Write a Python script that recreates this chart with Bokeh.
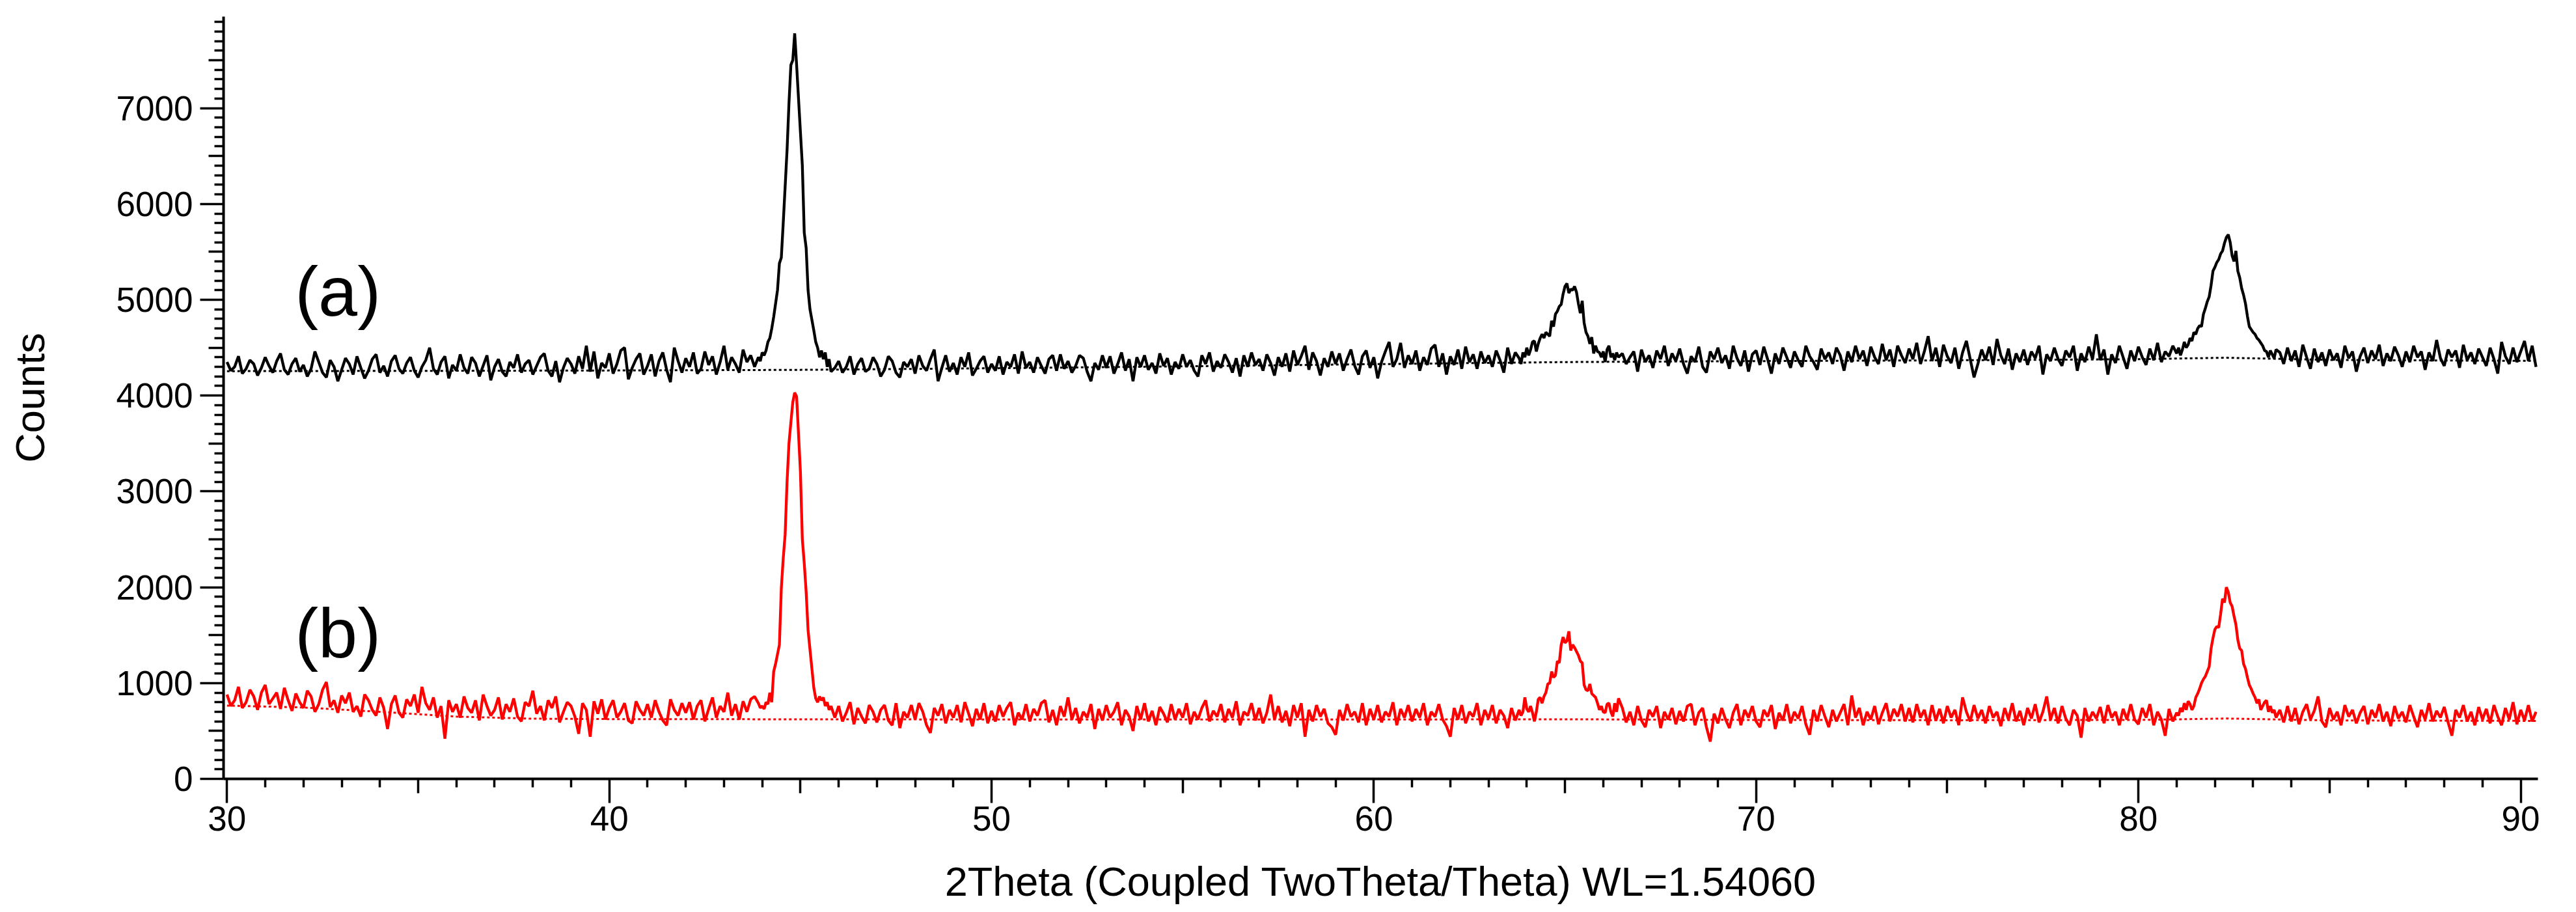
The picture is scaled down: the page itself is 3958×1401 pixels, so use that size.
from bokeh.plotting import figure
from bokeh.models import (LinearAxis, FixedTicker, Range1d, Label,
                          CustomJSTickFormatter)
from bokeh.embed import file_html
from bokeh.resources import INLINE

FONT = "Liberation Sans"

# ---------------- data (counts) ----------------
# trace (a), black: background stretches on a 0.1 deg grid, peaks on a 0.05 deg grid
a_seg1 = [4350, 4260, 4300, 4410, 4230, 4280, 4370, 4330, 4210, 4290,
          4400, 4310, 4240, 4360, 4440, 4270, 4220, 4330, 4390, 4250,
          4320, 4200, 4280, 4460, 4350, 4240, 4190, 4370, 4300, 4150,
          4270, 4390, 4330, 4220, 4410, 4290, 4180, 4260, 4380, 4430,
          4240, 4310, 4200, 4360, 4420, 4280, 4230, 4340, 4400, 4260,
          4190, 4300, 4370, 4500, 4280, 4220, 4350, 4410, 4180, 4320,
          4260, 4430, 4290, 4230, 4400, 4340, 4200, 4310, 4420, 4160,
          4300, 4380, 4250, 4200, 4350, 4290, 4430, 4240, 4330, 4370,
          4220, 4310, 4400, 4440, 4260, 4200, 4360, 4140, 4290, 4390,
          4330, 4230, 4410, 4280, 4520, 4250, 4460, 4180, 4340, 4290,
          4440, 4230, 4330, 4470, 4500, 4170, 4290, 4380, 4440, 4220,
          4310, 4430, 4200, 4360, 4450, 4270, 4140, 4500, 4360, 4240,
          4390, 4300, 4450, 4230, 4280, 4460, 4320, 4410, 4220, 4350,
          4520, 4270, 4400, 4330, 4240, 4480, 4350, 4420, 4300]
a_peak1 = [4400, 4360, 4450, 4420, 4470, 4560, 4600, 4700, 4820, 4960,
           5100, 5380, 5440, 5800, 6180, 6560, 7050, 7450, 7500, 7780,
           7450, 7100, 6750, 6400, 5700, 5540, 5100, 4900, 4790, 4680,
           4560, 4500, 4400, 4470, 4380, 4450, 4300, 4380, 4250]
a_seg2 = [4290,
          4360, 4240, 4300, 4410, 4220, 4330, 4390, 4250, 4280, 4400,
          4330, 4200, 4270, 4410, 4360, 4240, 4190, 4350, 4300, 4380,
          4230, 4420, 4310, 4260, 4380, 4480, 4150, 4290, 4420, 4250,
          4340, 4220, 4400, 4300, 4450, 4210, 4280, 4360, 4410, 4240,
          4330, 4260, 4410, 4220, 4350, 4300, 4430, 4230, 4460, 4290,
          4350, 4240, 4400, 4310, 4230, 4380, 4420, 4260, 4430, 4280,
          4360, 4240, 4310, 4420, 4390, 4250, 4150, 4340, 4270, 4420,
          4290, 4410, 4230, 4330, 4450, 4260, 4380, 4150, 4400, 4300,
          4420, 4270, 4340, 4230, 4440, 4310, 4390, 4220, 4350, 4280,
          4430, 4300, 4370, 4260, 4200, 4420, 4330, 4450, 4250, 4360,
          4290, 4430, 4350, 4240, 4390, 4200, 4420, 4300, 4450, 4320,
          4380, 4260, 4430, 4340, 4210, 4400, 4300, 4440, 4250, 4470,
          4320, 4410, 4520, 4270, 4450, 4360, 4210, 4390, 4300, 4460,
          4330, 4440, 4260, 4380, 4480, 4310, 4220, 4410, 4470, 4290,
          4400, 4180, 4350, 4460, 4560, 4300, 4380, 4550, 4290, 4420,
          4330, 4470, 4260, 4400, 4320, 4490, 4530, 4300, 4440, 4220,
          4410, 4320, 4480, 4280, 4510, 4350, 4430, 4280, 4460, 4340,
          4420, 4300, 4470, 4370, 4240, 4500, 4330, 4450]
a_peak2 = [4390, 4330, 4450, 4400, 4500, 4420, 4480, 4560, 4570, 4460,
           4540, 4600, 4640, 4600, 4660, 4640, 4620, 4780, 4720, 4850,
           4880, 4930, 4950, 5060, 5140, 5170, 5070, 5110, 5100, 5140,
           5080, 4960, 4860, 4990, 4760, 4660, 4620, 4540, 4610, 4440,
           4520, 4460, 4450, 4400, 4460, 4350, 4480, 4520, 4400, 4440,
           4370, 4450, 4400]
a_seg3 = [4440, 4330, 4400, 4460, 4250,
          4480, 4350, 4420, 4290, 4470, 4380, 4520, 4310, 4440, 4360,
          4490, 4330, 4230, 4410, 4350, 4510, 4300, 4240, 4460, 4380,
          4500, 4340, 4420, 4280, 4520, 4390, 4310, 4470, 4250, 4430,
          4470, 4320, 4510, 4380, 4230, 4440, 4330, 4500, 4400, 4290,
          4460, 4370, 4300, 4520, 4410, 4350, 4270, 4490, 4380, 4450,
          4330, 4500, 4420, 4260, 4460, 4350, 4520, 4380, 4470, 4310,
          4510, 4400, 4330, 4540, 4370, 4480, 4300, 4520, 4420, 4340,
          4490, 4380, 4550, 4330, 4460, 4620, 4360, 4500, 4300, 4530,
          4410, 4340, 4500, 4280, 4450, 4570, 4380, 4190, 4330, 4480,
          4370, 4510, 4320, 4590, 4420, 4330, 4490, 4270, 4440, 4350,
          4480, 4320, 4460, 4390, 4520, 4220, 4430, 4360, 4500, 4380,
          4310, 4470, 4400, 4520, 4260, 4440, 4350, 4510, 4380, 4640,
          4370, 4480, 4220, 4430, 4340, 4520, 4400, 4280, 4470, 4360,
          4510, 4400, 4320, 4490, 4370, 4550, 4350, 4460, 4410, 4520]
a_peak3 = [4440, 4500, 4420, 4480, 4560, 4500, 4530, 4600, 4570, 4660,
           4640, 4700, 4730, 4720, 4850, 4910, 4980, 5030, 5150, 5300,
           5340, 5390, 5420, 5480, 5510, 5590, 5650, 5680, 5600, 5460,
           5400, 5510, 5300, 5230, 5120, 5050, 4960, 4830, 4720, 4690,
           4660, 4640, 4600, 4580, 4550, 4520, 4470, 4460, 4400, 4470,
           4430, 4390, 4480]
a_seg4 = [4450, 4330, 4500,
          4360, 4470, 4300, 4530, 4400, 4280, 4490, 4350, 4450, 4310,
          4480, 4370, 4440, 4290, 4520, 4390, 4460, 4250, 4410, 4500,
          4340, 4470, 4380, 4530, 4310, 4440, 4360, 4510, 4420, 4300,
          4460, 4350, 4520, 4400, 4460, 4270, 4450, 4360, 4580, 4390,
          4310, 4480, 4400, 4470, 4290, 4530, 4370, 4450, 4330, 4490,
          4400, 4310, 4500, 4380, 4230, 4560, 4410, 4330, 4500, 4350,
          4460, 4570, 4360, 4520, 4300]

# trace (b), red
b_seg1 = [880, 760, 820, 960, 740, 800, 930, 860, 720, 900,
          980, 780, 840, 900, 730, 950, 820, 710, 890, 800,
          740, 920, 860, 700, 780, 930, 1010, 750, 820, 690,
          870, 790, 900, 700, 760, 650, 880, 820, 720, 660,
          850, 740, 520, 780, 870, 690, 640, 830, 760, 880,
          690, 960, 790, 720, 850, 640, 760, 420, 820, 700,
          780, 640, 860, 740, 690, 820, 610, 880, 760, 660,
          720, 850, 620, 780, 700, 840, 650, 600, 800, 760,
          920, 680, 760, 610, 820, 740, 860, 590, 700, 800,
          760, 650, 470, 790, 720, 440, 810, 680, 830, 620,
          740, 820, 640, 700, 790, 610, 580, 810, 720, 660,
          780, 640, 820, 700, 610, 560, 830, 720, 660, 790,
          690, 800, 620, 760, 820, 600, 730, 850, 640, 760,
          700, 900, 660, 780, 620, 810, 700, 830, 860]
b_peak1 = [790, 740, 760, 730, 800, 780, 900, 800, 1120, 1200,
           1300, 1400, 1990, 2300, 2550, 3100, 3500, 3720, 3930, 4030,
           3990, 3600, 3200, 2500, 2250, 1950, 1550, 1350, 1150, 950,
           840, 800, 860, 820, 850, 760, 800, 720, 760]
b_seg2 = [640,
          760, 600, 690, 800, 570, 740, 650, 580, 770, 700,
          590, 720, 770, 610, 560, 790, 530, 700, 640, 770,
          620, 790, 700, 560, 480, 740, 660, 780, 580, 720,
          640, 770, 590, 800, 680, 550, 730, 620, 790, 580,
          710, 600, 770, 650, 740, 800, 560, 690, 620, 780,
          600, 730, 660, 790, 820, 590, 720, 560, 760, 650,
          850, 620, 740, 580, 700, 640, 780, 520, 730, 610,
          770, 640, 700, 800, 560, 720, 650, 500, 760, 620,
          790, 600, 710, 560, 750, 680, 590, 780, 620, 730,
          640, 790, 570, 700, 620, 740, 820, 600, 710, 650,
          780, 590, 730, 640, 810, 560, 700, 660, 790, 610,
          740, 580, 690, 880, 620, 760, 590, 710, 550, 770,
          640, 790, 440, 720, 600, 770, 650, 730, 580, 540,
          460, 720, 610, 780, 650, 700, 590, 790, 560, 730,
          620, 770, 590, 700, 650, 800, 560, 730, 640, 770,
          600, 730, 640, 790, 560, 700, 650, 780, 620, 550,
          440, 740, 620, 770, 580, 700, 650, 790, 560, 720,
          630, 770, 580, 720, 660, 530, 740, 610]
b_peak2 = [720, 660, 700, 850, 730, 700, 760, 690, 600, 700,
           830, 850, 790, 860, 900, 990, 1000, 1120, 1060, 1080,
           1230, 1210, 1400, 1480, 1420, 1440, 1540, 1340, 1400, 1370,
           1330, 1290, 1230, 1210, 980, 930, 920, 990, 890, 870,
           850, 790, 720, 760, 700, 690, 780, 790, 700, 650,
           790, 700, 840]
b_seg3 = [740, 590, 700, 560, 760,
          610, 540, 720, 650, 760, 530, 700, 620, 740, 570,
          710, 600, 760, 780, 560, 690, 740, 540, 390, 680,
          580, 740, 620, 530, 690, 780, 560, 720, 640, 760,
          600, 540, 720, 650, 770, 520, 690, 610, 780, 580,
          700, 630, 760, 570, 460, 720, 600, 770, 650, 540,
          720, 600, 690, 780, 560, 870, 640, 740, 560, 700,
          620, 760, 570, 690, 790, 600, 730, 650, 780, 600,
          740, 590, 780, 640, 720, 560, 770, 610, 730, 580,
          760, 640, 720, 560, 850, 700, 600, 770, 630, 720,
          580, 760, 640, 700, 550, 740, 620, 790, 600, 710,
          560, 740, 630, 780, 590, 700, 860, 620, 740, 580,
          760, 630, 560, 720, 660, 430, 740, 600, 700, 630,
          750, 580, 770, 640, 700, 560, 730, 620, 780, 620,
          570, 740, 640, 780, 560, 700, 620, 450, 730, 600]
b_peak3 = [690, 660, 740, 700, 790, 720, 810, 780, 720, 760,
           850, 890, 940, 1000, 1040, 1070, 1120, 1170, 1360, 1470,
           1560, 1590, 1580, 1720, 1880, 1840, 2000, 1950, 1840, 1800,
           1700, 1610, 1450, 1360, 1340, 1200, 1150, 1060, 980, 940,
           890, 850, 790, 830, 720, 760, 800, 820, 700, 760,
           690, 720, 640]
b_seg4 = [720, 590, 760,
          600, 740, 570, 700, 780, 620, 710, 860, 600, 540,
          740, 620, 700, 560, 770, 650, 720, 580, 690, 760,
          570, 720, 640, 780, 600, 700, 550, 760, 630, 700,
          590, 770, 650, 540, 720, 620, 790, 600, 710, 640,
          750, 590, 450, 720, 640, 770, 600, 700, 560, 750,
          620, 730, 580, 770, 650, 560, 740, 620, 800, 570,
          720, 610, 770, 600, 700]

# fitted backgrounds (dotted curves)
bg_a_x = [30.0, 35.0, 40.0, 44.8, 50.0, 55.0, 60.0, 65.1, 70.0, 75.0, 80.0, 82.3, 85.0, 90.4]
bg_a_y = [4255, 4258, 4262, 4268, 4285, 4305, 4328, 4350, 4360, 4368, 4380, 4395, 4372, 4362]
bg_b_x = [30.0, 32.0, 34.0, 36.0, 38.0, 40.0, 44.8, 50.0, 60.0, 65.1, 70.0, 75.0, 80.0, 82.3, 85.0, 90.4]
bg_b_y = [765, 745, 700, 650, 628, 624, 622, 620, 620, 622, 615, 612, 615, 630, 610, 605]

# grid (start angle, step) of each stretch
a_parts = [(30.0, 0.1, a_seg1), (43.9, 0.05, a_peak1), (45.9, 0.1, a_seg2),
           (63.8, 0.05, a_peak2), (66.5, 0.1, a_seg3), (81.0, 0.05, a_peak3),
           (83.7, 0.1, a_seg4)]
b_parts = [(30.0, 0.1, b_seg1), (43.9, 0.05, b_peak1), (45.9, 0.1, b_seg2),
           (63.8, 0.05, b_peak2), (66.5, 0.1, b_seg3), (81.0, 0.05, b_peak3),
           (83.7, 0.1, b_seg4)]

x_major = [30, 40, 50, 60, 70, 80, 90]
y_major = [0, 1000, 2000, 3000, 4000, 5000, 6000, 7000]
x_title = "2Theta (Coupled TwoTheta/Theta) WL=1.54060"
y_title = "Counts"


def build(parts):
    xs, ys = [], []
    for start, step, vals in parts:
        for i, v in enumerate(vals):
            xs.append(round(start + i * step, 3))
            ys.append(v)
    return xs, ys


ax, ay = build(a_parts)
bx, by = build(b_parts)

# ---------------- figure ----------------
X0, X1, Y0, Y1 = 29.91, 90.45, 0, 7955
p = figure(width=3958, height=1401,
           x_range=Range1d(X0, X1), y_range=Range1d(Y0, Y1),
           x_axis_type=None, y_axis_type=None,
           output_backend="svg", toolbar_location=None,
           min_border_left=343, min_border_right=59,
           min_border_top=25, min_border_bottom=205)
p.outline_line_color = None
p.background_fill_color = "white"
p.border_fill_color = "white"

p.line(bg_a_x, bg_a_y, line_color="black", line_width=3, line_dash="4 4")
p.line(bg_b_x, bg_b_y, line_color="#ff0000", line_width=3, line_dash="4 4")
p.line(ax, ay, line_color="black", line_width=4.3)
p.line(bx, by, line_color="#ff0000", line_width=4.3)

blank = CustomJSTickFormatter(code="return ''")

# inner axes: axis line, medium (x5 / x500) and minor ticks
y_mid = [v for v in range(500, 8000, 1000)]
y_min = [v for v in range(0, 8000, 100) if v % 500 != 0]
x_mid = [v for v in range(35, 90, 10)]
x_min = [v for v in range(30, 91) if v % 5 != 0]

yin = LinearAxis(ticker=FixedTicker(ticks=y_mid, minor_ticks=y_min),
                 formatter=blank, major_label_text_font_size="1px",
                 major_label_standoff=0,
                 axis_line_width=4, major_tick_line_width=3.5, minor_tick_line_width=3.5,
                 major_tick_out=23, major_tick_in=0, minor_tick_out=14, minor_tick_in=0)
xin = LinearAxis(ticker=FixedTicker(ticks=x_mid, minor_ticks=x_min),
                 formatter=blank, major_label_text_font_size="1px",
                 major_label_standoff=0,
                 axis_line_width=4, major_tick_line_width=3.5, minor_tick_line_width=3.5,
                 major_tick_out=22, major_tick_in=0, minor_tick_out=13, minor_tick_in=0)
p.add_layout(yin, "left")
p.add_layout(xin, "below")

# outer axes: long labelled ticks reaching back to the frame
yout = LinearAxis(ticker=FixedTicker(ticks=y_major, minor_ticks=[]),
                  axis_line_color=None, minor_tick_line_color=None,
                  major_tick_line_width=3.5, major_tick_in=23, major_tick_out=13,
                  major_label_standoff=11,
                  major_label_text_font=FONT, major_label_text_font_size="53px",
                  major_label_text_color="black",
                  axis_label=y_title, axis_label_text_font=FONT,
                  axis_label_text_font_size="63px", axis_label_text_font_style="normal",
                  axis_label_text_color="black", axis_label_standoff=95)
xout = LinearAxis(ticker=FixedTicker(ticks=x_major, minor_ticks=[]),
                  axis_line_color=None, minor_tick_line_color=None,
                  major_tick_line_width=3.5, major_tick_in=22, major_tick_out=15,
                  major_label_standoff=5,
                  major_label_text_font=FONT, major_label_text_font_size="53px",
                  major_label_text_color="black",
                  axis_label=x_title, axis_label_text_font=FONT,
                  axis_label_text_font_size="63px", axis_label_text_font_style="normal",
                  axis_label_text_color="black", axis_label_standoff=40)
p.add_layout(yout, "left")
p.add_layout(xout, "below")

p.add_layout(Label(x=32.9, y=5088, text="(a)", text_font=FONT, text_font_size="108px",
                   text_align="center", text_baseline="alphabetic", text_color="black"))
p.add_layout(Label(x=32.9, y=1525, text="(b)", text_font=FONT, text_font_size="108px",
                   text_align="center", text_baseline="alphabetic", text_color="black"))

open("out.html", "w").write(file_html(p, INLINE))
